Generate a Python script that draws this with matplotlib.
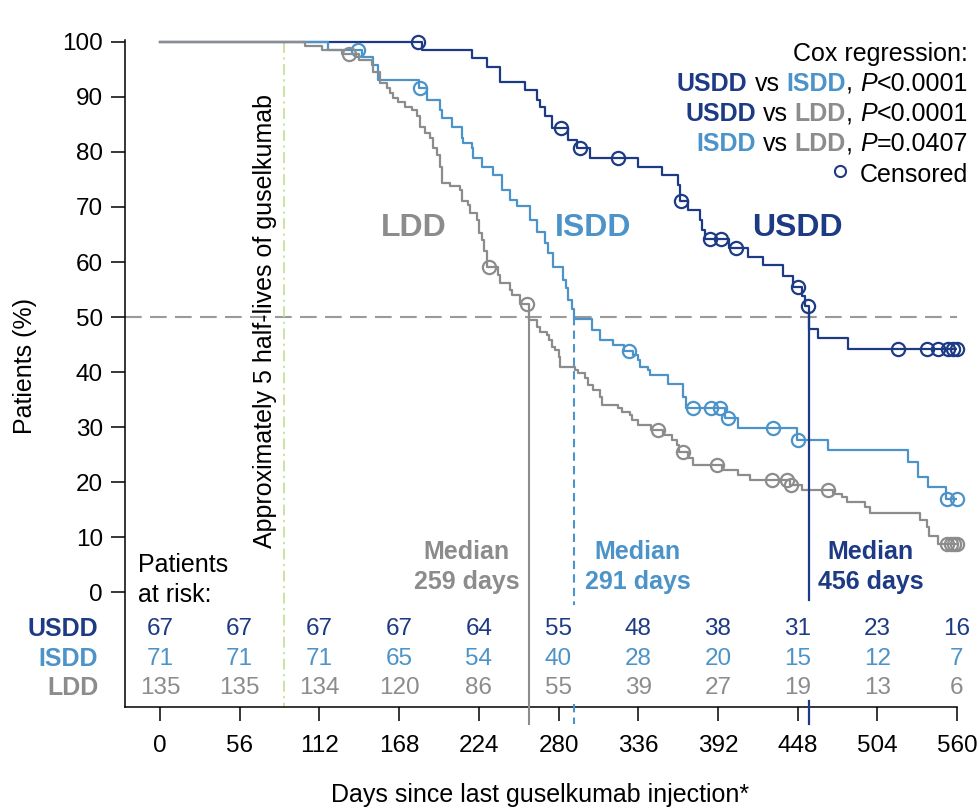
import numpy as np
import matplotlib
matplotlib.use('Agg')
import matplotlib.pyplot as plt
from matplotlib import transforms

plt.rcParams['font.family'] = ['Liberation Sans', 'DejaVu Sans']

# colours
c_usdd = '#1d3a84'
c_isdd = '#4b93c8'
c_ldd = '#8c8c8c'

# Kaplan-Meier steps: (day, % after the drop)
ldd_t = [0, 102, 114, 128, 140, 148.7, 150, 154.6, 159.3, 161.6, 164, 167.4, 172.1,
         176.9, 180.4, 182.7, 186.2, 190, 192, 194.5, 196.7, 198, 204, 211, 212,
         216.6, 218, 222.5, 224, 226, 228, 229.6, 237.7, 239, 246, 247, 253, 259,
         264.6, 267, 271.7, 273, 275.2, 277.5, 280, 281, 291.6, 294, 298.6, 301,
         304.5, 309.2, 310.4, 322, 324.4, 330, 331.4, 336, 345, 353.7, 359.6, 363,
         365, 371.2, 374.8, 394.7, 406.4, 414.6, 442.7, 450.9, 473.1, 479, 482.5,
         495.4, 499, 534, 538.7, 540, 547]
ldd_s = [100, 99.3, 98.5, 97.8, 96.7, 95.8, 94.6, 92.5, 91.6, 90.7, 89.8, 89.1, 88.2,
         87.6, 86.6, 84.6, 83.4, 82.5, 80.7, 79.5, 77.3, 74.3, 73.9, 73.1, 71.0,
         70.4, 68.9, 67.6, 65.2, 64.0, 62.0, 59.1, 57.6, 56.1, 55.0, 54.0, 52.4, 49.5,
         48.2, 47.3, 46.7, 45.8, 44.6, 44.0, 42.8, 41.0, 40.4, 39.8, 38.9, 37.6,
         36.7, 35.5, 34.0, 33.5, 32.8, 32.2, 31.3, 30.4, 29.4, 28.5, 27.6, 26.7,
         25.5, 24.4, 23.1, 22.2, 21.3, 20.4, 19.5, 18.5, 17.9, 17.3, 16.4,
         15.5, 14.3, 13.1, 11.9, 10.1, 8.8]
ldd_cens = [133, 231.4, 257.6, 350.2, 367.7, 391.2, 429.8, 440.3, 443.5, 469.6,
            553, 556, 558, 560]

isdd_t = [0, 118, 141.7, 150, 153.4, 182, 187.4, 196.7, 198, 205, 212, 213, 219, 220,
          226, 234, 240, 246, 250.6, 260, 264.7, 270.5, 272.8, 276.4, 283.4, 285,
          287, 289.3, 291, 303.3, 309.2, 318.6, 326, 332.6, 336, 337.3, 343, 344.3,
          357.2, 367.7, 369.5, 397, 406.4, 447.4, 469.6, 525.8, 532.8, 539.9, 552]
isdd_s = [100, 98.6, 97.2, 95.8, 93.0, 91.6, 89.5, 87.6, 86.1, 84.6, 82.5, 81.6, 80.7, 78.9,
          77.3, 75.8, 73.1, 71.3, 70.1, 67.6, 65.5, 63.4, 61.6, 59.1, 56.7, 55.3,
          53.1, 51.5, 49.6, 47.6, 45.8, 45.0, 43.9, 43.1, 42.2, 41.0, 40.4, 39.5,
          37.9, 35.5, 33.4, 31.6, 29.8, 27.6, 25.8, 23.7, 21.0, 19.1, 17.0]
isdd_cens = [139.3, 183, 329.8, 374.8, 387.5, 393.4, 399.3, 430.9, 448.6, 553, 559.8]

usdd_t = [0, 184, 219, 229.6, 239, 256.5, 264.7, 267, 270.5, 275.2, 287, 293, 302.1,
          336, 352.5, 364.2, 365.4, 371.2, 379.4, 380.6, 383, 400, 413.4, 423.9, 438,
          445, 451, 453.5, 456, 462.6, 483.6]
usdd_s = [100, 98.5, 97.0, 95.5, 92.8, 91.3, 89.5, 88.2, 86.6, 84.3, 82.2, 80.7, 78.9,
          77.3, 75.8, 74.0, 71.0, 69.5, 67.6, 65.8, 64.2, 62.5, 61.0, 59.5, 57.4,
          55.5, 53.9, 52.0, 47.9, 46.1, 44.2]
usdd_cens = [181, 281.8, 295.1, 322, 365.8, 386.5, 394.2, 404.7, 448.5, 455.5,
             518.8, 538.7, 546.9, 553.9, 557.4, 560]

medians = [259, 291, 456]
half_life_day = 87

risk_days = [0, 56, 112, 168, 224, 280, 336, 392, 448, 504, 560]
usdd_risk = [67, 67, 67, 67, 64, 55, 48, 38, 31, 23, 16]
isdd_risk = [71, 71, 71, 65, 54, 40, 28, 20, 15, 12, 7]
ldd_risk = [135, 135, 134, 120, 86, 55, 39, 27, 19, 13, 6]

fs = 17.5

fig = plt.figure(figsize=(9.79, 8.10), dpi=100)
ax = fig.add_axes([125 / 979, 103 / 810, 832 / 979, 667 / 810])
ax.set_xlim(-24.6, 560)
ax.set_ylim(-20.9, 100.36)

groups = [(usdd_t, usdd_s, usdd_cens, c_usdd, 2),
          (isdd_t, isdd_s, isdd_cens, c_isdd, 3),
          (ldd_t, ldd_s, ldd_cens, c_ldd, 4)]
for t, s, cens, col, z in groups:
    t = np.array(t, float)
    s = np.array(s, float)
    end = max(cens[-1], t[-1])
    ax.step(np.append(t, end), np.append(s, s[-1]), where='post', color=col,
            lw=1.6, zorder=z)
    idx = np.searchsorted(t, cens, side='right') - 1
    ax.plot(cens, s[idx], 'o', mfc='none', mec=col, ms=9.5, mew=1.6,
            zorder=z, clip_on=False)

# 50% reference and half-life line
ax.plot([-24.6, 560], [50, 50], color='#9a9a9a', lw=1.5, ls=(0, (8, 4)), zorder=1)
ax.plot([half_life_day, half_life_day], [100, -20.9], color='#c6e09a', lw=1.3,
        ls=(0, (6, 2.5, 1.2, 2.5)), zorder=1)

# median lines
ax.plot([medians[0]] * 2, [50, -24], color=c_ldd, lw=1.5, clip_on=False, zorder=5)
ax.plot([medians[1]] * 2, [50, -2.3], color=c_isdd, lw=1.5, ls=(0, (4, 2.5)), zorder=5)
ax.plot([medians[1]] * 2, [-20.4, -24], color=c_isdd, lw=1.5, ls=(0, (4, 2.5)),
        clip_on=False, zorder=5)
ax.plot([medians[2]] * 2, [51, -1.5], color=c_usdd, lw=1.6, zorder=5)
ax.plot([medians[2]] * 2, [-19.9, -24], color=c_usdd, lw=1.6, clip_on=False, zorder=5)

# axes styling
for sp in ['top', 'right']:
    ax.spines[sp].set_visible(False)
for sp in ['left', 'bottom']:
    ax.spines[sp].set_linewidth(1.1)
ax.set_yticks(np.arange(0, 101, 10))
ax.set_xticks(risk_days)
ax.tick_params(axis='both', direction='out', length=10, width=1.1, labelsize=fs)
ax.tick_params(axis='x', pad=10)
ax.tick_params(axis='y', pad=6)

fig.text(25 / 979, 1 - 366 / 810, 'Patients (%)', rotation=90, ha='center',
         va='center', fontsize=18)
fig.text(540 / 979, 1 - 795 / 810, 'Days since last guselkumab injection*',
         ha='center', va='center', fontsize=18)

ax.text(73.8, 49.3, 'Approximately 5 half-lives of guselkumab', rotation=90,
        ha='center', va='center', fontsize=18)

# group labels
ax.text(178.5, 66.1, 'LDD', color=c_ldd, fontsize=23, fontweight='bold',
        ha='center', va='center')
ax.text(304.5, 66.1, 'ISDD', color=c_isdd, fontsize=23, fontweight='bold',
        ha='center', va='center')
ax.text(448, 66.1, 'USDD', color=c_usdd, fontsize=23, fontweight='bold',
        ha='center', va='center')

# median labels
for xm, days, col in [(215.5, medians[0], c_ldd), (335.5, medians[1], c_isdd),
                      (499.5, medians[2], c_usdd)]:
    ax.text(xm, 7.3, 'Median', color=col, fontsize=18, fontweight='bold',
            ha='center', va='center')
    ax.text(xm, 1.9, f'{days} days', color=col, fontsize=18, fontweight='bold',
            ha='center', va='center')

# risk table
ax.text(-15.2, 4.9, 'Patients', fontsize=18, ha='left', va='center')
ax.text(-15.2, -0.6, 'at risk:', fontsize=18, ha='left', va='center')
for name, vals, col, yy in [('USDD', usdd_risk, c_usdd, -6.7),
                            ('ISDD', isdd_risk, c_isdd, -12.1),
                            ('LDD', ldd_risk, c_ldd, -17.5)]:
    ax.text(-43.4, yy, name, color=col, fontsize=18, fontweight='bold',
            ha='right', va='center', clip_on=False)
    for d, v in zip(risk_days, vals):
        ax.text(d, yy, str(v), color=col, fontsize=fs, ha='center', va='center')

# Cox regression block, right aligned pieces
renderer = fig.canvas.get_renderer()
cfs = 18


def width_of(s, **kw):
    t = ax.text(0, 0, s, fontsize=cfs, **kw)
    w = t.get_window_extent(renderer=renderer).width
    t.remove()
    return w


space_w = width_of('a a') - width_of('aa')


def rich_right(x, y, parts):
    off = 0.0
    for s, col, weight, style in reversed(parts):
        if s == ' ':
            off += space_w
            continue
        tr = transforms.offset_copy(ax.transData, fig=fig, x=-off, y=0, units='dots')
        t = ax.text(x, y, s, color=col, fontsize=cfs, fontweight=weight,
                    fontstyle=style, ha='right', va='center', transform=tr,
                    clip_on=False)
        off += t.get_window_extent(renderer=renderer).width


xr = 567.7
k = 'black'
sp_ = (' ', k, 'normal', 'normal')
rich_right(xr, 97.9, [('Cox regression:', k, 'normal', 'normal')])
rich_right(xr, 92.4, [('USDD', c_usdd, 'bold', 'normal'), sp_,
                      ('vs', k, 'normal', 'normal'), sp_,
                      ('ISDD', c_isdd, 'bold', 'normal'), (',', k, 'normal', 'normal'),
                      sp_, ('P', k, 'normal', 'italic'),
                      ('<0.0001', k, 'normal', 'normal')])
rich_right(xr, 86.9, [('USDD', c_usdd, 'bold', 'normal'), sp_,
                      ('vs', k, 'normal', 'normal'), sp_,
                      ('LDD', c_ldd, 'bold', 'normal'), (',', k, 'normal', 'normal'),
                      sp_, ('P', k, 'normal', 'italic'),
                      ('<0.0001', k, 'normal', 'normal')])
rich_right(xr, 81.4, [('ISDD', c_isdd, 'bold', 'normal'), sp_,
                      ('vs', k, 'normal', 'normal'), sp_,
                      ('LDD', c_ldd, 'bold', 'normal'), (',', k, 'normal', 'normal'),
                      sp_, ('P', k, 'normal', 'italic'),
                      ('=0.0407', k, 'normal', 'normal')])
rich_right(xr, 75.9, [('Censored', k, 'normal', 'normal')])
ax.plot([0.859], [0.803], 'o', mfc='none', mec=c_usdd, ms=8, mew=1.5,
        transform=ax.transAxes, clip_on=False)

fig.savefig('out.png', dpi=100)
